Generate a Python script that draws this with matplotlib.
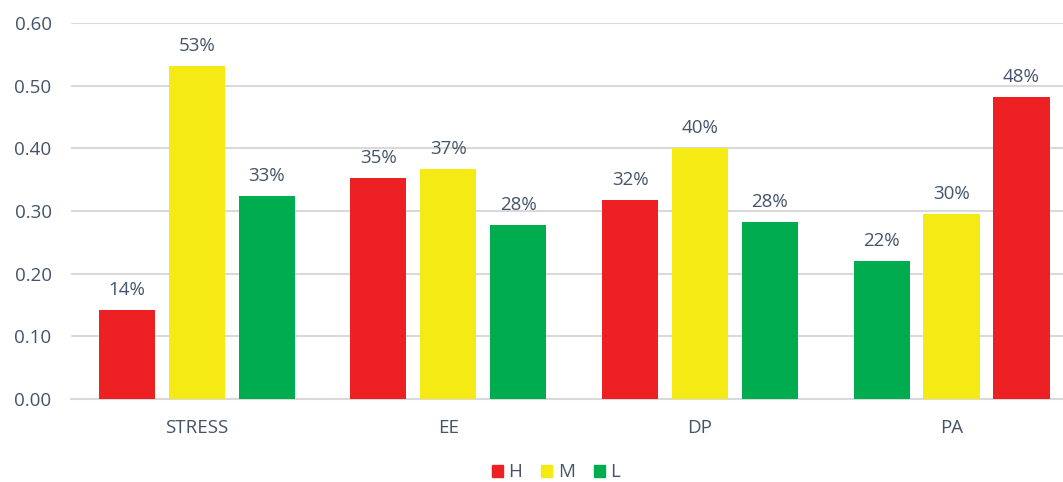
import matplotlib.pyplot as plt
import numpy as np

categories = ['STRESS', 'EE', 'DP', 'PA']
# three bars per category, in the order they are drawn left to right
bar_values = [
    [0.142, 0.532, 0.324],
    [0.353, 0.367, 0.278],
    [0.318, 0.400, 0.282],
    [0.220, 0.296, 0.482],
]
bar_labels = [
    ['14%', '53%', '33%'],
    ['35%', '37%', '28%'],
    ['32%', '40%', '28%'],
    ['22%', '30%', '48%'],
]
bar_levels = [
    ['H', 'M', 'L'],
    ['H', 'M', 'L'],
    ['H', 'M', 'L'],
    ['L', 'M', 'H'],
]
legend_levels = ['H', 'M', 'L']

colors = {'H': '#ED2124', 'M': '#F5EA14', 'L': '#00AD4E'}
text_color = '#44546A'
grid_color = '#D9D9D9'

plt.rcParams['font.family'] = ['Open Sans', 'DejaVu Sans']
fs = 13.5

fig = plt.figure(figsize=(10.63, 4.82), dpi=100)
ax = fig.add_axes([0.0668, 0.172, 0.9332, 0.780])

width = 0.223
pitch = 0.278
x = np.arange(len(categories))

for i in range(len(categories)):
    for j in range(3):
        xpos = x[i] + (j - 1) * pitch
        ax.bar(xpos, bar_values[i][j], width, color=colors[bar_levels[i][j]], zorder=3)
        ax.annotate(bar_labels[i][j], (xpos, bar_values[i][j]), xytext=(0, 8),
                    textcoords='offset points', ha='center', va='bottom',
                    fontsize=fs, color=text_color)

ax.set_xlim(-0.5, 3.443)
ax.set_ylim(0, 0.6)
ax.set_yticks(np.arange(0, 0.61, 0.1))
ax.set_yticklabels(['%.2f' % v for v in np.arange(0, 0.61, 0.1)])
ax.set_xticks(x)
ax.set_xticklabels(categories)
ax.tick_params(axis='both', length=0, labelsize=fs, colors=text_color)
ax.tick_params(axis='y', pad=14)
ax.tick_params(axis='x', pad=14)
ax.yaxis.grid(True, color=grid_color, linewidth=1.5, zorder=0)
for s in ['top', 'right', 'left']:
    ax.spines[s].set_visible(False)
ax.spines['bottom'].set_color(grid_color)
ax.spines['bottom'].set_linewidth(1.5)

handles = [plt.Rectangle((0, 0), 1, 1, color=colors[k]) for k in legend_levels]
fig.legend(handles, legend_levels, loc='center', bbox_to_anchor=(0.523, 0.02),
           ncol=3, frameon=False, fontsize=fs, labelcolor=text_color,
           handlelength=0.6, handleheight=0.6, handletextpad=0.3, columnspacing=1.0)

fig.savefig('out.png', dpi=100)
